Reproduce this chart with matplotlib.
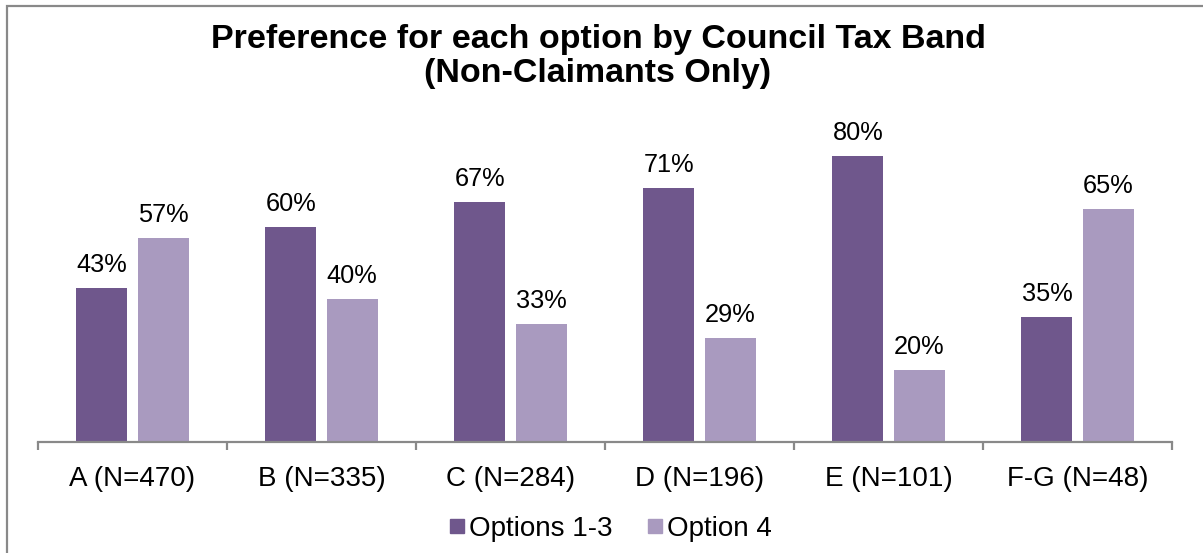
import matplotlib
matplotlib.use("Agg")
import matplotlib.pyplot as plt
from matplotlib.patches import Rectangle
from matplotlib.lines import Line2D
import numpy as np

plt.rcParams['font.family'] = ['Liberation Sans', 'DejaVu Sans']

categories = ["A (N=470)", "B (N=335)", "C (N=284)", "D (N=196)", "E (N=101)", "F-G (N=48)"]
options_1_3 = [43, 60, 67, 71, 80, 35]
option_4 = [57, 40, 33, 29, 20, 65]
series_names = ["Options 1-3", "Option 4"]
title_lines = ["Preference for each option by Council Tax Band", "(Non-Claimants Only)"]

c_dark = "#6F578C"
c_light = "#A99ABF"

W, H = 1203, 553
fig = plt.figure(figsize=(W / 100, H / 100), dpi=100)

# outer border
fig.add_artist(Rectangle((7 / W, -0.05), 1.1, 1 - 6 / H + 0.05, transform=fig.transFigure,
                         fill=False, edgecolor="#898989", linewidth=1.6))

ax_left, ax_right = 38, 1172
ax_bottom, ax_top = 442, 100
ax = fig.add_axes([ax_left / W, (H - ax_bottom) / H, (ax_right - ax_left) / W, (ax_bottom - ax_top) / H])

x = np.arange(len(categories))
bw = 0.27
off = 0.162
b1 = ax.bar(x - off, options_1_3, bw, color=c_dark, label=series_names[0])
b2 = ax.bar(x + off, option_4, bw, color=c_light, label=series_names[1])

for bars, vals in ((b1, options_1_3), (b2, option_4)):
    for r, v in zip(bars, vals):
        ax.annotate(f"{v}%", (r.get_x() + r.get_width() / 2, r.get_height()),
                    xytext=(0, 11.5), textcoords="offset points", ha="center", va="baseline",
                    fontsize=18.3, color="black")

ax.set_xlim(-0.5, len(categories) - 0.5)
ax.set_ylim(0, 342 / 3.58)
ax.set_yticks([])
for s in ("top", "right", "left"):
    ax.spines[s].set_visible(False)
ax.spines["bottom"].set_color("#898989")
ax.spines["bottom"].set_linewidth(1.6)

ax.set_xticks(x)
ax.set_xticklabels(categories, fontsize=20)
ax.tick_params(axis="x", which="major", length=0, pad=17.5)
ax.set_xticks(np.arange(-0.5, len(categories) + 0.5, 1), minor=True)
ax.tick_params(axis="x", which="minor", length=6, color="#898989", width=1.6)

fig.text(598 / W, 1 - 48 / H, title_lines[0], ha="center", va="baseline", fontsize=24.5,
         fontweight="bold")
fig.text(598 / W, 1 - 82 / H, title_lines[1], ha="center", va="baseline", fontsize=24.5,
         fontweight="bold")

handles = [Line2D([], [], marker="s", linestyle="", markersize=9.4, color=c_dark),
           Line2D([], [], marker="s", linestyle="", markersize=9.4, color=c_light)]
fig.legend(handles, series_names, loc="center", bbox_to_anchor=(611 / W, 1 - 529 / H),
           ncol=2, frameon=False, fontsize=20, handletextpad=0.2, columnspacing=1.26,
           handlelength=0.5, borderaxespad=0, borderpad=0)

fig.savefig("out.png", dpi=100)
